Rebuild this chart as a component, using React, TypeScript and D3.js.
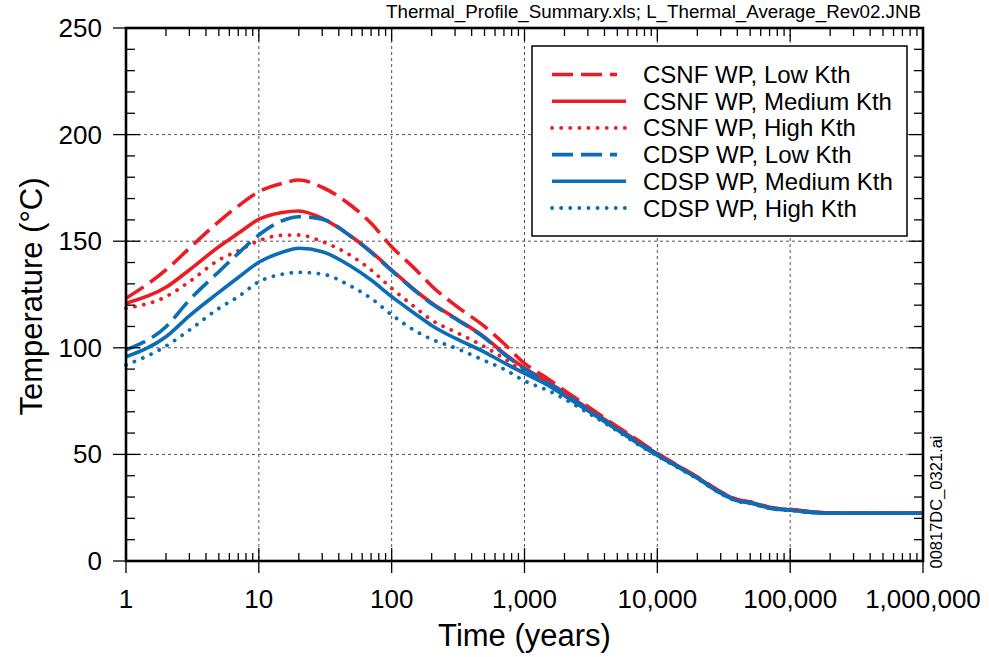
import React from "react";
import * as d3 from "d3";

const TIME = [1, 2, 3, 5, 7, 10, 15, 20, 30, 50, 70, 100, 150, 200, 300, 500, 700, 1000, 1500, 2000, 3000, 5000, 7000, 10000, 15000, 20000, 30000, 40000, 50000, 70000, 100000, 200000, 500000, 1000000];

const CSNF_LOW = [123.2, 136.5, 146.7, 159.2, 166.5, 173.2, 177.1, 178.7, 175.3, 166.5, 158.4, 147.4, 137, 129, 120, 110, 102, 92.7, 85.5, 80, 72.5, 63, 57, 50.5, 44, 39.5, 32.5, 28.8, 27.8, 25.2, 24.2, 22.6, 22.5, 22.5];
const CSNF_MED = [120.9, 128.4, 136.5, 147.4, 153.7, 160.3, 163.5, 164.2, 160.7, 152.1, 145.1, 136.5, 127, 121, 114, 105, 97.5, 90.5, 84, 79, 71.5, 62.5, 56.5, 50.2, 43.8, 39.2, 32.3, 28.6, 27.6, 25, 24, 22.5, 22.5, 22.5];
const CSNF_HIGH = [118.5, 124, 131, 141.2, 145.5, 150.2, 152.8, 152.9, 149.8, 143, 136.5, 127.9, 119, 113, 107.5, 100.5, 95, 88.5, 82.5, 78, 71, 62, 56.3, 50, 43.6, 39, 32.2, 28.5, 27.5, 25, 24, 22.5, 22.5, 22.5];
const CDSP_LOW = [99, 109.9, 122.4, 135.7, 144.3, 152.9, 159.6, 161.5, 160.3, 152, 144.8, 136.2, 126.7, 120.7, 113.7, 104.7, 97, 90, 83.5, 78.5, 71, 62, 56, 50, 43.5, 39, 32, 28.4, 27.4, 24.9, 23.9, 22.4, 22.4, 22.4];
const CDSP_MED = [95.8, 105.2, 115, 126, 133, 140.1, 144.8, 146.7, 145.1, 138, 131.8, 124, 116, 110.5, 104.5, 98, 93, 88, 82.5, 77.5, 70.5, 61.5, 55.5, 49.5, 43.3, 38.8, 31.8, 28.2, 27.2, 24.8, 23.8, 22.4, 22.4, 22.4];
const CDSP_HIGH = [91.9, 100.8, 108.3, 118.5, 124, 131, 134.5, 135.4, 134.6, 128.7, 123.2, 115.5, 108, 104, 100, 94, 90, 84.5, 80, 76, 69.5, 61, 55, 49.3, 43, 38.6, 31.6, 28, 27, 24.7, 23.7, 22.4, 22.4, 22.4];

const SERIES_NAMES = ["CSNF WP, Low Kth", "CSNF WP, Medium Kth", "CSNF WP, High Kth", "CDSP WP, Low Kth", "CDSP WP, Medium Kth", "CDSP WP, High Kth"];
const SERIES_VALUES = [CSNF_LOW, CSNF_MED, CSNF_HIGH, CDSP_LOW, CDSP_MED, CDSP_HIGH];

const X_TICKS = [1, 10, 100, 1000, 10000, 100000, 1000000];
const X_TICK_LABELS = ["1", "10", "100", "1,000", "10,000", "100,000", "1,000,000"];
const Y_TICKS = [0, 50, 100, 150, 200, 250];

const TOP_NOTE = "Thermal_Profile_Summary.xls; L_Thermal_Average_Rev02.JNB";
const SIDE_NOTE = "00817DC_0321.ai";
const X_TITLE = "Time (years)";
const Y_TITLE = "Temperature (°C)";

const RED = "#ED1C24";
const BLUE = "#0A6DB5";
const FONT = "'Liberation Sans', Arial, Helvetica, sans-serif";

const styleFor = (i: number) => {
  const color = i < 3 ? RED : BLUE;
  const kind = i % 3;
  if (kind === 0) return { stroke: color, dash: "21,8", cap: "butt" as const, width: 3.6 };
  if (kind === 1) return { stroke: color, dash: "none", cap: "butt" as const, width: 3.6 };
  return { stroke: color, dash: "0.1,9", cap: "round" as const, width: 3.8 };
};

export default function App() {
  const L = 126, R = 923, T = 28, B = 561;
  const x = d3.scaleLog().domain([1, 1e6]).range([L, R]);
  const y = d3.scaleLinear().domain([0, 250]).range([B, T]);

  const line = d3
    .line<[number, number]>()
    .x((d) => x(d[0]))
    .y((d) => y(d[1]))
    .curve(d3.curveMonotoneX);

  const minorX: number[] = [];
  for (let e = 0; e < 6; e++) for (let k = 2; k <= 9; k++) minorX.push(k * Math.pow(10, e));
  const minorY: number[] = d3.range(0, 251, 10).filter((v) => v % 50 !== 0);

  const legX = 532, legY = 46, legW = 375, legH = 190;
  const rowY0 = 74.5, rowDy = 26.7;

  return (
    <svg width={989} height={657} style={{ position: "absolute", left: 0, top: 0, background: "#fff" }} fontFamily={FONT}>
      <rect x={0} y={0} width={989} height={657} fill="#fff" />
      {/* grid */}
      <g stroke="#555" strokeWidth={1} strokeDasharray="3,3">
        {X_TICKS.slice(1, -1).map((t) => (
          <line key={"gx" + t} x1={x(t)} x2={x(t)} y1={T} y2={B} />
        ))}
        {Y_TICKS.slice(1, -1).map((v) => (
          <line key={"gy" + v} x1={L} x2={R} y1={y(v)} y2={y(v)} />
        ))}
      </g>

      {/* series */}
      <g fill="none">
        {SERIES_VALUES.map((vals, i) => {
          const s = styleFor(i);
          const data: [number, number][] = TIME.map((t, j) => [t, vals[j]]);
          return (
            <path
              key={SERIES_NAMES[i]}
              d={line(data) || ""}
              stroke={s.stroke}
              strokeWidth={s.width}
              strokeDasharray={s.dash}
              strokeLinecap={s.cap}
              strokeLinejoin="round"
            />
          );
        })}
      </g>

      {/* ticks */}
      <g stroke="#000" strokeWidth={1.3}>
        {minorX.map((t) => (
          <g key={"mx" + t}>
            <line x1={x(t)} x2={x(t)} y1={B} y2={B - 8} />
            <line x1={x(t)} x2={x(t)} y1={T} y2={T + 8} />
          </g>
        ))}
        {X_TICKS.map((t) => (
          <g key={"Mx" + t}>
            <line x1={x(t)} x2={x(t)} y1={B + 12} y2={B - 13} />
            <line x1={x(t)} x2={x(t)} y1={T} y2={T + 13} />
          </g>
        ))}
        {minorY.map((v) => (
          <g key={"my" + v}>
            <line x1={L} x2={L + 9} y1={y(v)} y2={y(v)} />
            <line x1={R} x2={R - 9} y1={y(v)} y2={y(v)} />
          </g>
        ))}
        {Y_TICKS.map((v) => (
          <g key={"My" + v}>
            <line x1={L - 13} x2={L + 14} y1={y(v)} y2={y(v)} />
            <line x1={R} x2={R - 14} y1={y(v)} y2={y(v)} />
          </g>
        ))}
      </g>

      {/* frame */}
      <rect x={L} y={T} width={R - L} height={B - T} fill="none" stroke="#000" strokeWidth={2.6} />

      {/* tick labels */}
      <g fontSize={26} fill="#000">
        {X_TICK_LABELS.map((lab, i) => (
          <text key={"xl" + lab} x={x(X_TICKS[i])} y={608} textAnchor="middle">
            {lab}
          </text>
        ))}
        {Y_TICKS.map((v) => (
          <text key={"yl" + v} x={102} y={y(v) + 9} textAnchor="end">
            {v}
          </text>
        ))}
      </g>

      {/* titles */}
      <text x={(L + R) / 2} y={646} textAnchor="middle" fontSize={31} fill="#000">
        {X_TITLE}
      </text>
      <text transform={`translate(42,${(T + B) / 2 + 2}) rotate(-90)`} textAnchor="middle" fontSize={31} fill="#000">
        {Y_TITLE}
      </text>
      <text x={921} y={18} textAnchor="end" fontSize={18} textLength={535} lengthAdjust="spacingAndGlyphs" fill="#000">
        {TOP_NOTE}
      </text>
      <text transform="translate(942,502) rotate(-90)" textAnchor="middle" fontSize={16.5} fill="#000">
        {SIDE_NOTE}
      </text>

      {/* legend */}
      <rect x={legX} y={legY} width={legW} height={legH} fill="#fff" stroke="#000" strokeWidth={1.5} />
      {SERIES_NAMES.map((name, i) => {
        const s = styleFor(i);
        const cy = rowY0 + i * rowDy;
        return (
          <g key={"leg" + i}>
            <line
              x1={552}
              x2={i % 3 === 0 ? 617 : 626}
              y1={cy}
              y2={cy}
              stroke={s.stroke}
              strokeWidth={s.width}
              strokeDasharray={s.dash}
              strokeLinecap={s.cap}
            />
            <text x={643} y={cy + 8.5} fontSize={24} fill="#000">
              {name}
            </text>
          </g>
        );
      })}
    </svg>
  );
}
